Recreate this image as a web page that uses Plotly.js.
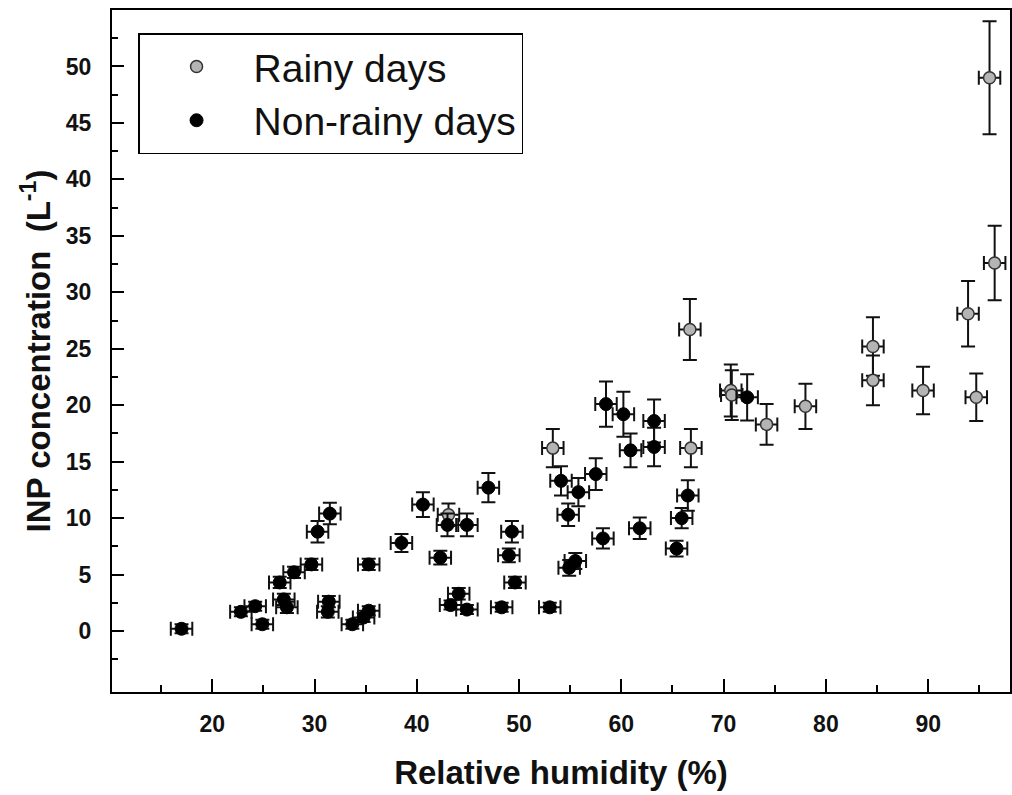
<!DOCTYPE html>
<html><head><meta charset="utf-8">
<script src="https://cdn.plot.ly/plotly-3.0.1.min.js"></script>
<style>html,body{margin:0;padding:0;background:#fff}</style>
</head><body><div id="chart" style="width:1012px;height:795px"></div>
<script>
// Rainy days
const rainyRH  = [96.0, 96.5, 93.9, 84.6, 84.6, 89.5, 94.7, 78.0, 74.2, 70.7, 70.8, 66.7, 66.8, 53.3, 43.1];
const rainyINP = [49.0, 32.6, 28.1, 25.2, 22.2, 21.3, 20.7, 19.9, 18.3, 21.3, 20.9, 26.7, 16.2, 16.2, 10.3];
const rainyErrINP = [5.0, 3.3, 2.9, 2.6, 2.2, 2.1, 2.1, 2.0, 1.8, 2.3, 2.2, 2.7, 1.7, 1.7, 1.0];
const rainyErrRH  = [1.05, 1.05, 1.05, 1.05, 1.05, 1.05, 1.05, 1.05, 1.05, 1.05, 1.05, 1.05, 1.05, 1.05, 1.05];
// Non-rainy days
const dryRH  = [17.0, 22.8, 24.2, 24.9, 26.6, 27.0, 27.3, 28.0, 29.7, 30.3, 31.5, 31.4, 31.3, 33.7, 34.8, 35.3, 35.3, 38.5, 40.6, 42.3, 43.0, 44.9, 43.3, 44.1, 44.9, 47.0, 48.3, 49.0, 49.3, 49.6, 53.0, 54.1, 54.8, 54.9, 55.5, 55.8, 57.5, 58.2, 58.5, 60.2, 60.9, 61.8, 63.2, 63.2, 65.4, 65.9, 66.5, 72.3];
const dryINP = [0.2, 1.7, 2.2, 0.6, 4.3, 2.8, 2.1, 5.2, 5.9, 8.8, 10.4, 2.6, 1.7, 0.6, 1.2, 1.8, 5.9, 7.8, 11.2, 6.5, 9.4, 9.4, 2.3, 3.3, 1.9, 12.7, 2.1, 6.7, 8.8, 4.3, 2.1, 13.3, 10.3, 5.6, 6.2, 12.3, 13.9, 8.2, 20.1, 19.2, 16.0, 9.1, 18.6, 16.3, 7.3, 10.0, 12.0, 20.7];
const dryErrINP = [0.4, 0.4, 0.4, 0.4, 0.5, 0.5, 0.5, 0.5, 0.5, 0.95, 0.95, 0.5, 0.5, 0.4, 0.4, 0.4, 0.5, 0.8, 1.1, 0.6, 1.0, 1.0, 0.4, 0.5, 0.4, 1.3, 0.4, 0.6, 0.95, 0.5, 0.4, 1.3, 1.0, 0.7, 0.7, 1.25, 1.4, 0.9, 2.0, 2.0, 1.5, 0.95, 1.9, 1.7, 0.7, 0.9, 1.35, 2.05];
const dryErrRH = dryRH.map(() => 1.05);
const xTicks = [20, 30, 40, 50, 60, 70, 80, 90];
const xMinor = [15, 25, 35, 45, 55, 65, 75, 85, 95];
const yTicks = [0, 5, 10, 15, 20, 25, 30, 35, 40, 45, 50];
const yMinor = [-2.5, 2.5, 7.5, 12.5, 17.5, 22.5, 27.5, 32.5, 37.5, 42.5, 47.5, 52.5];

const FONT = 'Liberation Sans, Arial, sans-serif';
const errStyle = {type: 'data', color: '#111', thickness: 2, width: 7};
const traces = [
  {x: rainyRH, y: rainyINP, name: 'Rainy days', type: 'scatter', mode: 'markers',
   marker: {size: 12, color: '#b4b4b4', line: {color: '#333', width: 1.5}},
   error_y: Object.assign({array: rainyErrINP}, errStyle),
   error_x: Object.assign({array: rainyErrRH}, errStyle)},
  {x: dryRH, y: dryINP, name: 'Non-rainy days', type: 'scatter', mode: 'markers',
   marker: {size: 13, color: '#000', line: {color: '#000', width: 1}},
   error_y: Object.assign({array: dryErrINP}, errStyle),
   error_x: Object.assign({array: dryErrRH}, errStyle)}
];
const tickFont = {family: FONT, size: 23, color: '#111', weight: 'bold'};
const titleFont = {family: FONT, size: 33, color: '#111', weight: 'bold'};
const layout = {
  width: 1012, height: 795,
  margin: {l: 112, r: 2, t: 10, b: 103},
  paper_bgcolor: '#fff', plot_bgcolor: '#fff',
  showlegend: true,
  legend: {x: 0.029, y: 0.966, xanchor: 'left', yanchor: 'top', bgcolor: '#fff',
    bordercolor: '#000', borderwidth: 1.5, itemwidth: 104,
    font: {family: FONT, size: 39, color: '#111'}},
  xaxis: {range: [10.2, 98], showgrid: false, zeroline: false, showline: true, mirror: true,
    linecolor: '#000', linewidth: 2, ticks: 'inside', ticklen: 13, tickwidth: 2, tickcolor: '#000',
    tickmode: 'array', tickvals: xTicks, ticktext: xTicks.map(String), tickfont: tickFont,
    ticklabelstandoff: 10,
    minor: {tickmode: 'array', tickvals: xMinor, ticks: 'inside', ticklen: 7, tickwidth: 2, tickcolor: '#000', showgrid: false},
    title: {text: 'Relative humidity (%)', standoff: 25, font: titleFont}},
  yaxis: {range: [-5.4, 55], showgrid: false, zeroline: false, showline: true, mirror: true,
    linecolor: '#000', linewidth: 2, ticks: 'inside', ticklen: 12, tickwidth: 2, tickcolor: '#000',
    tickmode: 'array', tickvals: yTicks, ticktext: yTicks.map(String), tickfont: tickFont,
    ticklabelstandoff: 14,
    minor: {tickmode: 'array', tickvals: yMinor, ticks: 'inside', ticklen: 6, tickwidth: 2, tickcolor: '#000', showgrid: false},
    title: {text: 'INP concentration  (L<sup>-1</sup>)', standoff: 5, font: titleFont}}
};
Plotly.newPlot('chart', traces, layout, {displayModeBar: false, staticPlot: true});
</script></body></html>
